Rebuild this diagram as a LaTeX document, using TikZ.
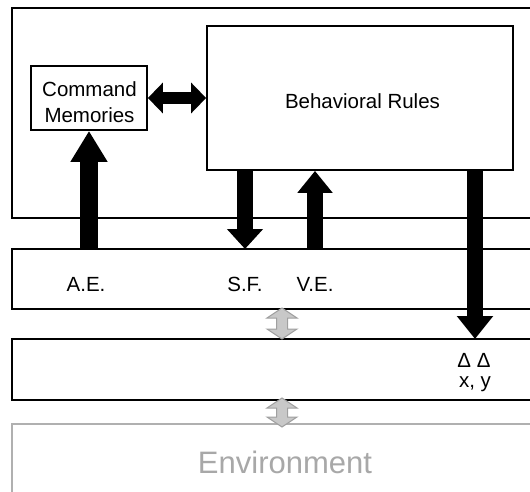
\documentclass[tikz,border=0pt]{standalone}
\usepackage{fontspec}
\setmainfont{Liberation Sans}
\usetikzlibrary{arrows.meta}
\definecolor{envgray}{HTML}{B0B0B0}
\definecolor{envtext}{HTML}{A8A8A8}
\definecolor{arrfill}{HTML}{C8C8C8}
\definecolor{arredge}{HTML}{A0A0A0}
\begin{document}
\begin{tikzpicture}[x=1pt,y=-1pt,
  frame/.style={line width=1.8pt},
  boxnode/.style={draw,line width=1.8pt,inner sep=0pt},
  txt/.style={inner sep=0pt,font=\fontsize{20.5}{26}\selectfont},
  lbl/.style={inner sep=0pt,anchor=base,font=\fontsize{20.5}{24}\selectfont},
  fatarr/.style n args={3}{line width=#1,-{Triangle[width=#2,length=#3]}},
  grayarr/.style={fill=arrfill,draw=arredge,line width=1pt,line join=miter}]
\useasboundingbox (0,0) rectangle (530,492);
\fill[white] (0,0) rectangle (530,492);

% layers (open on the right)
\draw[frame] (530,8) -| (12,218) -- (530,218);
\draw[frame] (530,249) -| (12,309) -- (530,309);
\draw[frame] (530,339) -| (12,400) -- (530,400);
\draw[frame,envgray] (530,424) -| (12,492);

% boxes
\node[boxnode,minimum width=116pt,minimum height=64pt] (cm) at (89,98) {};
\node[txt,align=center] (cmtext) at (89.5,102) {Command\\Memories};
\node[boxnode,minimum width=306pt,minimum height=144pt] (br) at (360,98) {};
\node[txt,anchor=base] (brtext) at (362.5,109) {Behavioral Rules};

% coordinates on the layers
\coordinate (ae) at (89,249);
\coordinate (sf) at (245,249);
\coordinate (ve) at (315,249);
\coordinate (dxy) at (475,339);

% black arrows
\draw[line width=12pt,{Triangle[width=30pt,length=15pt]}-{Triangle[width=30pt,length=15pt]}] (cm.east) -- (br.west);
\draw[fatarr={18pt}{35pt}{31pt}] (ae) -- (cm.south);
\draw[fatarr={16pt}{35pt}{20pt}] (sf |- br.south) -- (sf);
\draw[fatarr={16pt}{34pt}{22pt}] (ve) -- (ve |- br.south);
\draw[fatarr={16pt}{35pt}{23pt}] (dxy |- br.south) -- (dxy);

% gray double arrows
\draw[grayarr] (282,308) -- ++(15,10) -- ++(-9.5,0) -- ++(0,11) -- ++(9.5,0) -- ++(-15,10)
  -- ++(-15,-10) -- ++(9.5,0) -- ++(0,-11) -- ++(-9.5,0) -- cycle;
\draw[grayarr] (282,398) -- ++(15,10) -- ++(-9.5,0) -- ++(0,9) -- ++(9.5,0) -- ++(-15,10)
  -- ++(-15,-10) -- ++(9.5,0) -- ++(0,-9) -- ++(-9.5,0) -- cycle;

% labels
\node[lbl] (aelbl) at (86,291) {A.E.};
\node[lbl] (sflbl) at (245,291) {S.F.};
\node[lbl] (velbl) at (315,291) {V.E.};
\node[lbl] (ddlbl) at (474,367) {Δ Δ};
\node[lbl] (xylbl) at (475,387.5) {x, y};
\node[inner sep=0pt,anchor=base,font=\fontsize{31}{36}\selectfont,text=envtext] (env) at (285,473) {Environment};
\end{tikzpicture}
\end{document}
